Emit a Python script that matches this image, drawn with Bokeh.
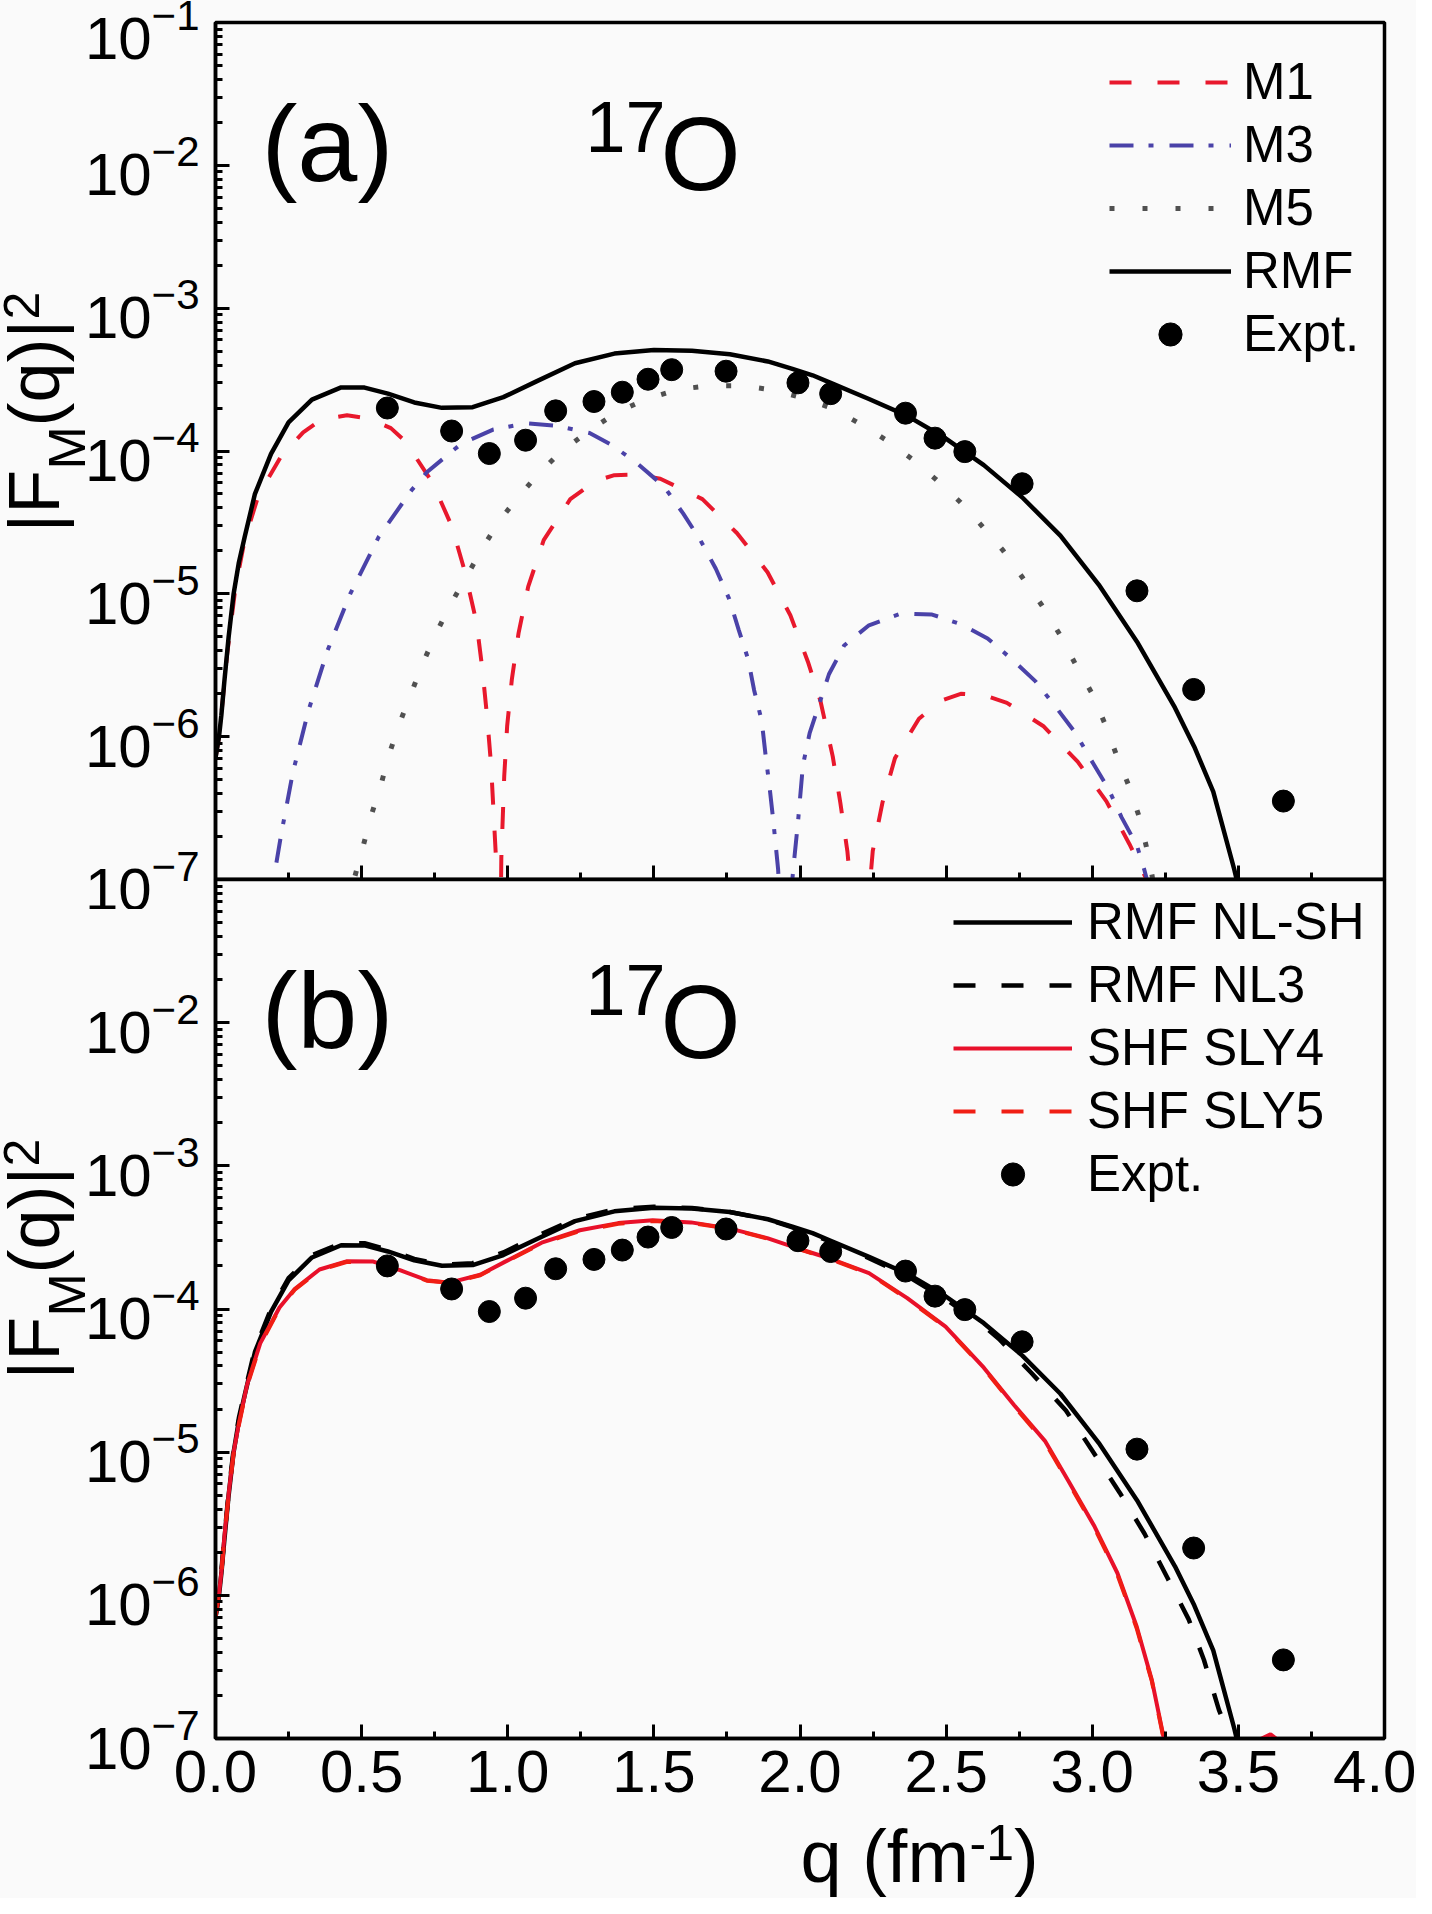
import numpy as np
from bokeh.plotting import figure
from bokeh.models import (FixedTicker, LogTickFormatter, SingleIntervalTicker,
                          PrintfTickFormatter, CustomJSTickFormatter, Legend, LegendItem,
                          Label, Range1d)
from bokeh.layouts import column, row
from bokeh.embed import file_html
from bokeh.resources import INLINE

# ---------------- data (curves given as log10 of |F_M(q)|^2) ----------------
q_expt = [0.588, 0.808, 0.937, 1.061, 1.164, 1.295, 1.392, 1.480, 1.561, 1.747,
          1.993, 2.105, 2.361, 2.462, 2.564, 2.760, 3.153, 3.347, 3.654]
f_expt = [2.0e-4, 1.38e-4, 9.6e-5, 1.19e-4, 1.91e-4, 2.22e-4, 2.58e-4, 3.18e-4, 3.71e-4, 3.62e-4,
          3.0e-4, 2.52e-4, 1.84e-4, 1.23e-4, 9.9e-5, 5.9e-5, 1.05e-5, 2.14e-6, 3.54e-7]

q_rmf = [0.0, 0.012, 0.02, 0.03, 0.045, 0.062, 0.08, 0.10, 0.135, 0.19, 0.25, 0.33, 0.43, 0.51,
         0.59, 0.68, 0.775, 0.88, 0.985, 1.10, 1.23, 1.365, 1.50, 1.63, 1.76, 1.89, 1.974, 2.043,
         2.105, 2.236, 2.367, 2.498, 2.629, 2.76, 2.891, 3.022, 3.153, 3.283, 3.349, 3.414, 3.486, 3.50]
lg_rmf = [-6.15, -6.0, -5.85, -5.62, -5.30, -5.00, -4.78, -4.60, -4.30, -4.02, -3.80, -3.64, -3.555,
          -3.556, -3.598, -3.66, -3.698, -3.693, -3.623, -3.511, -3.386, -3.318, -3.293, -3.298,
          -3.323, -3.373, -3.425, -3.47, -3.523, -3.636, -3.754, -3.911, -4.099, -4.324, -4.592,
          -4.935, -5.335, -5.797, -6.07, -6.385, -6.93, -7.05]

q_m1 = [0.0, 0.012, 0.022, 0.04, 0.068, 0.10, 0.147, 0.225, 0.30, 0.363, 0.45, 0.527, 0.60, 0.651,
        0.743, 0.808, 0.854, 0.893, 0.913, 0.93, 0.943, 0.952, 0.961, 0.969, 0.978, 0.988, 0.998,
        1.014, 1.037, 1.07, 1.123, 1.214, 1.30, 1.365, 1.44, 1.522, 1.666, 1.784, 1.889, 1.967,
        2.027, 2.07, 2.112, 2.138, 2.162, 2.185, 2.207, 2.228, 2.249, 2.282, 2.325, 2.407, 2.48,
        2.55, 2.63, 2.708, 2.832, 2.95, 3.048, 3.127, 3.186, 3.22]
lg_m1 = [-6.15, -6.0, -5.8, -5.42, -4.96, -4.62, -4.31, -4.036, -3.87, -3.779, -3.75, -3.774, -3.84,
         -3.936, -4.224, -4.524, -4.849, -5.2, -5.525, -5.875, -6.2, -6.551, -6.9, -8.5, -6.85,
         -6.275, -5.925, -5.6, -5.275, -4.95, -4.624, -4.337, -4.21, -4.169, -4.165, -4.194, -4.337,
         -4.574, -4.849, -5.15, -5.475, -5.75, -6.138, -6.463, -6.8, -7.3, -8.5, -7.3, -6.8, -6.463,
         -6.15, -5.875, -5.75, -5.7, -5.71, -5.763, -5.925, -6.175, -6.451, -6.751, -7.0, -7.2]

q_m3 = [0.19, 0.2058, 0.2254, 0.2647, 0.317, 0.3826, 0.461, 0.559, 0.671, 0.723, 0.841, 0.95, 1.064,
        1.168, 1.28, 1.358, 1.443, 1.535, 1.60, 1.659, 1.712, 1.758, 1.79, 1.823, 1.843, 1.869,
        1.882, 1.895, 1.908, 1.925, 1.935, 1.947, 1.96, 1.98, 1.993, 2.01, 2.033, 2.099, 2.151,
        2.236, 2.347, 2.452, 2.55, 2.642, 2.727, 2.806, 2.878, 2.943, 2.996, 3.055, 3.10, 3.153,
        3.179, 3.20]
lg_m3 = [-7.3, -6.914, -6.676, -6.251, -5.825, -5.4, -5.0, -4.6, -4.274, -4.149, -3.949, -3.85,
         -3.806, -3.824, -3.874, -3.961, -4.086, -4.249, -4.437, -4.624, -4.824, -5.037, -5.25,
         -5.462, -5.675, -5.888, -6.125, -6.338, -6.576, -6.926, -7.3, -8.5, -7.3, -6.864, -6.6,
         -6.2, -5.975, -5.563, -5.362, -5.22, -5.137, -5.145, -5.212, -5.312, -5.462, -5.613, -5.8,
         -5.975, -6.163, -6.363, -6.563, -6.763, -6.938, -7.1]

q_m5 = [0.455, 0.474, 0.504, 0.533, 0.566, 0.595, 0.631, 0.671, 0.713, 0.76, 0.811, 0.917, 0.972,
        1.037, 1.105, 1.179, 1.28, 1.378, 1.476, 1.585, 1.692, 1.803, 1.908, 2.013, 2.112, 2.207,
        2.295, 2.383, 2.465, 2.548, 2.62, 2.694, 2.76, 2.828, 2.891, 2.943, 3.0, 3.044, 3.081,
        3.123, 3.159, 3.185, 3.205, 3.22]
lg_m5 = [-7.2, -7.0, -6.776, -6.551, -6.338, -6.118, -5.9, -5.688, -5.468, -5.255, -5.05, -4.669,
         -4.487, -4.319, -4.161, -4.011, -3.855, -3.724, -3.636, -3.568, -3.543, -3.543, -3.573,
         -3.63, -3.703, -3.811, -3.924, -4.056, -4.199, -4.357, -4.519, -4.694, -4.882, -5.082,
         -5.292, -5.495, -5.7, -5.913, -6.118, -6.333, -6.551, -6.769, -6.976, -7.2]

q_nl3 = [0.0, 0.012, 0.02, 0.03, 0.045, 0.062, 0.08, 0.10, 0.135, 0.19, 0.25, 0.33, 0.43, 0.51, 0.59,
         0.68, 0.775, 0.88, 0.985, 1.10, 1.23, 1.365, 1.50, 1.63, 1.76, 1.89, 1.974, 2.105, 2.236,
         2.367, 2.498, 2.629, 2.681, 2.792, 2.91, 3.002, 3.094, 3.179, 3.258, 3.33, 3.382, 3.434,
         3.474, 3.49]
lg_nl3 = [-6.15, -5.99, -5.83, -5.6, -5.28, -4.98, -4.76, -4.58, -4.28, -4.0, -3.785, -3.625, -3.54,
          -3.54, -3.585, -3.65, -3.69, -3.68, -3.605, -3.49, -3.37, -3.305, -3.285, -3.295, -3.322,
          -3.375, -3.43, -3.53, -3.645, -3.77, -3.93, -4.12, -4.21, -4.447, -4.709, -4.996, -5.283,
          -5.57, -5.881, -6.168, -6.45, -6.804, -7.0, -7.2]

q_sly4 = [0.0, 0.012, 0.02, 0.03, 0.045, 0.062, 0.08, 0.108, 0.153, 0.219, 0.271, 0.356, 0.448,
          0.54, 0.631, 0.723, 0.801, 0.906, 0.998, 1.116, 1.247, 1.378, 1.496, 1.627, 1.758, 1.888,
          1.974, 2.105, 2.236, 2.367, 2.498, 2.629, 2.733, 2.838, 2.917, 3.008, 3.086, 3.152, 3.204,
          3.243, 3.27, 3.35, 3.42, 3.47, 3.52, 3.56, 3.61, 3.66, 3.72]
lg_sly4 = [-6.15, -5.99, -5.84, -5.6, -5.29, -5.0, -4.8, -4.53, -4.24, -3.99, -3.861, -3.724, -3.667,
           -3.669, -3.729, -3.799, -3.816, -3.761, -3.662, -3.537, -3.45, -3.4, -3.38, -3.395,
           -3.437, -3.505, -3.565, -3.649, -3.749, -3.924, -4.123, -4.41, -4.672, -4.921, -5.196,
           -5.52, -5.844, -6.218, -6.592, -6.979, -7.3, -8.0, -9.0, -7.8, -7.15, -7.02, -6.97,
           -7.05, -7.3]

q_sly5 = [0.0, 0.012, 0.02, 0.03, 0.045, 0.062, 0.08, 0.108, 0.153, 0.219, 0.271, 0.356, 0.448,
          0.54, 0.631, 0.723, 0.801, 0.906, 0.998, 1.116, 1.247, 1.378, 1.496, 1.627, 1.758, 1.888,
          1.974, 2.105, 2.236, 2.367, 2.498, 2.629, 2.733, 2.838, 2.917, 3.008, 3.086, 3.152, 3.204,
          3.243, 3.27, 3.35, 3.42, 3.47, 3.52, 3.56, 3.61, 3.66, 3.72]
lg_sly5 = [-6.15, -5.99, -5.85, -5.61, -5.30, -5.01, -4.81, -4.54, -4.25, -3.995, -3.865, -3.728,
           -3.672, -3.674, -3.733, -3.802, -3.818, -3.764, -3.666, -3.542, -3.455, -3.405, -3.385,
           -3.398, -3.44, -3.508, -3.568, -3.652, -3.753, -3.93, -4.128, -4.415, -4.68, -4.93,
           -5.205, -5.53, -5.855, -6.23, -6.6, -6.99, -7.3, -8.0, -9.0, -7.8, -7.16, -7.03, -6.98,
           -7.06, -7.3]

y_ticks_a = [1e-7, 1e-6, 1e-5, 1e-4, 1e-3, 1e-2, 1e-1]
y_ticks_b = [1e-7, 1e-6, 1e-5, 1e-4, 1e-3, 1e-2]
y_ticks_minor = [m * d for d in [1e-7, 1e-6, 1e-5, 1e-4, 1e-3, 1e-2] for m in range(2, 10)]

FONT = "Liberation Sans"
BG = "#fafafa"
FRAME_W = 1169
LEFT = 135      # border between the title strip and the frame
RIGHT = 32
STRIP_W = 108   # strip holding the y titles (starts at the page edge, overlapped by the panels)
OVERLAP = 20
TOTAL_H = 1898
XT_H = 115      # strip holding the x title (overlaps the bottom border of panel b)


def pw(lg):
    return [10.0 ** v for v in lg]


def make_panel(frame_h, top, bottom, yticks, show_xlabels):
    p = figure(frame_width=FRAME_W, frame_height=frame_h,
               x_range=Range1d(0, 4), y_range=Range1d(1e-7, 1e-1), y_axis_type="log",
               output_backend="svg", toolbar_location=None,
               min_border_left=LEFT, min_border_right=RIGHT,
               min_border_top=top, min_border_bottom=bottom)
    p.background_fill_color = BG
    p.border_fill_alpha = 0
    p.grid.visible = False
    p.outline_line_color = "black"
    p.outline_line_width = 3.5

    xa = p.xaxis[0]
    xa.ticker = SingleIntervalTicker(interval=0.5, num_minor_ticks=2)
    ya = p.yaxis[0]
    ya.ticker = FixedTicker(ticks=yticks, minor_ticks=y_ticks_minor)
    ya.formatter = LogTickFormatter()
    for ax in (xa, ya):
        ax.axis_line_width = 3.5
        ax.axis_line_color = "black"
        ax.major_tick_in = 14
        ax.major_tick_out = 0
        ax.minor_tick_in = 7
        ax.minor_tick_out = 0
        ax.major_tick_line_width = 3
        ax.minor_tick_line_width = 3
        ax.major_tick_line_color = "black"
        ax.minor_tick_line_color = "black"
        ax.major_label_text_font = FONT
        ax.major_label_text_color = "black"
        ax.major_label_text_font_size = "60px"
    ya.major_label_standoff = 16
    if show_xlabels:
        xa.formatter = PrintfTickFormatter(format="%.1f")
        xa.major_label_standoff = 12
    else:
        xa.formatter = CustomJSTickFormatter(code="return ''")
        xa.major_label_text_font_size = "1px"
        xa.major_label_standoff = 0
    return p


def tag(p, letter, y_letter, y17, yO):
    kw = dict(x_units="data", y_units="data", text_font=FONT, text_color="black",
              text_align="left", text_baseline="middle")
    p.add_layout(Label(x=0.157, y=y_letter, text=letter, text_font_size="108px", **kw))
    p.add_layout(Label(x=1.266, y=y17, text="17", text_font_size="72px", **kw))
    p.add_layout(Label(x=1.523, y=yO, text="O", text_font_size="103px", **kw))


# ---------------- panel (a) ----------------
pa = make_panel(857, 22, 30, y_ticks_a, False)
r_m1 = pa.line(q_m1, pw(lg_m1), line_color="#e8182c", line_width=4, line_dash="22 26")
r_m3 = pa.line(q_m3, pw(lg_m3), line_color="#4a42a8", line_width=4, line_dash="24 15 5 16")
r_m5 = pa.line(q_m5, pw(lg_m5), line_color="#505050", line_width=5, line_dash="5 28")
r_rmf = pa.line(q_rmf, pw(lg_rmf), line_color="black", line_width=4.5)
r_ea = pa.scatter(q_expt, f_expt, marker="circle", size=22, color="black")

leg_a = Legend(items=[LegendItem(label="M1", renderers=[r_m1]),
                      LegendItem(label="M3", renderers=[r_m3]),
                      LegendItem(label="M5", renderers=[r_m5]),
                      LegendItem(label="RMF", renderers=[r_rmf]),
                      LegendItem(label="Expt.", renderers=[r_ea])],
               location=(894, 516), padding=0, margin=0, spacing=4,
               glyph_width=122, glyph_height=58, label_height=58, label_standoff=12,
               label_text_font=FONT, label_text_font_size="51px", label_text_color="black",
               background_fill_alpha=0, border_line_alpha=0)
pa.add_layout(leg_a)
tag(pa, "(a)", 10 ** -1.848, 10 ** -1.733, 10 ** -1.927)

# ---------------- panel (b) ----------------
pb = make_panel(859, 30, 100, y_ticks_b, True)
pb.margin = (-60, 0, 0, 0)
r_sh = pb.line(q_rmf, pw(lg_rmf), line_color="black", line_width=4.5)
r_nl3 = pb.line(q_nl3, pw(lg_nl3), line_color="black", line_width=4.5, line_dash="22 26")
r_s4 = pb.line(q_sly4, pw(lg_sly4), line_color="#e8102a", line_width=4)
r_s5 = pb.line(q_sly5, pw(lg_sly5), line_color="#f01e14", line_width=4, line_dash="22 26")
r_eb = pb.scatter(q_expt, f_expt, marker="circle", size=22, color="black")

leg_b = Legend(items=[LegendItem(label="RMF NL-SH", renderers=[r_sh]),
                      LegendItem(label="RMF NL3", renderers=[r_nl3]),
                      LegendItem(label="SHF SLY4", renderers=[r_s4]),
                      LegendItem(label="SHF SLY5", renderers=[r_s5]),
                      LegendItem(label="Expt.", renderers=[r_eb])],
               location=(738, 535), padding=0, margin=0, spacing=4,
               glyph_width=119, glyph_height=58, label_height=58, label_standoff=15,
               label_text_font=FONT, label_text_font_size="51px", label_text_color="black",
               background_fill_alpha=0, border_line_alpha=0)
pb.add_layout(leg_b)
tag(pb, "(b)", 10 ** -1.913, 10 ** -1.773, 10 ** -1.997)


def text_strip(w, h, transparent=False):
    f = figure(frame_width=w, frame_height=h, x_range=Range1d(0, w), y_range=Range1d(0, h),
               output_backend="svg", toolbar_location=None, min_border=0,
               x_axis_location=None, y_axis_location=None)
    f.grid.visible = False
    f.outline_line_color = None
    if transparent:
        f.background_fill_alpha = 0
        f.border_fill_alpha = 0
    else:
        f.background_fill_color = BG
        f.border_fill_color = BG
    return f


# ---------------- y titles |F_M(q)|^2 (strip at the left) ----------------
fy = text_strip(STRIP_W, TOTAL_H)


def ytitle(y_start):
    kw = dict(x_units="data", y_units="data", angle=np.pi / 2, text_font=FONT,
              text_color="black", text_align="left", text_baseline="middle")
    fy.add_layout(Label(x=41.5, y=y_start, text="|F", text_font_size="72px", **kw))
    fy.add_layout(Label(x=74.5, y=y_start + 63, text="M", text_font_size="52px", **kw))
    fy.add_layout(Label(x=41.5, y=y_start + 106, text="(q)|", text_font_size="72px", **kw))
    fy.add_layout(Label(x=29, y=y_start + 213, text="2", text_font_size="50px", **kw))


ytitle(TOTAL_H - 532)    # panel (a)
ytitle(TOTAL_H - 1379)   # panel (b)

# ---------------- x title q (fm^-1) ----------------
fx = text_strip(LEFT + FRAME_W + RIGHT, XT_H, transparent=True)
fx.margin = (-55, 0, 0, 0)
kwx = dict(x_units="data", y_units="data", text_font=FONT, text_color="black",
           text_align="left", text_baseline="middle")
fx.add_layout(Label(x=585, y=41.6, text="q (fm", text_font_size="74px", **kwx))
fx.add_layout(Label(x=754, y=56.3, text="-1", text_font_size="50px", **kwx))
fx.add_layout(Label(x=798.5, y=41.6, text=")", text_font_size="74px", **kwx))

panels = column(pa, pb, fx, spacing=0)
panels.margin = (0, 0, 0, -OVERLAP)
layout = row(fy, panels, spacing=0, styles={"background-color": BG})
layout.margin = (0, 0, 0, -8)
open("out.html", "w").write(file_html(layout, INLINE))
